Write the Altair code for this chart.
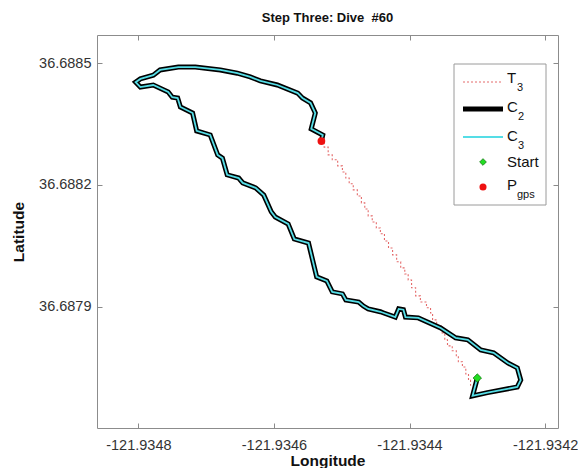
import altair as alt
import pandas as pd

# ---- data ----
c_lon = [-121.934300, -121.934307, -121.934285, -121.934241, -121.934236, -121.934241,
         -121.934255, -121.934276, -121.934295, -121.934314, -121.934332, -121.934354,
         -121.934387, -121.934406, -121.934409, -121.934416, -121.934421, -121.934438,
         -121.934443, -121.934461, -121.934468, -121.934475, -121.934494, -121.934499,
         -121.934514, -121.934522, -121.934537, -121.934549, -121.934570, -121.934579,
         -121.934598, -121.934604, -121.934615, -121.934627, -121.934646, -121.934652,
         -121.934669, -121.934676, -121.934683, -121.934694, -121.934714, -121.934720,
         -121.934738, -121.934742, -121.934750, -121.934756, -121.934778, -121.934797,
         -121.934804, -121.934797, -121.934778, -121.934768, -121.934741, -121.934716,
         -121.934679, -121.934654, -121.934635, -121.934620, -121.934595, -121.934565,
         -121.934558, -121.934546, -121.934539, -121.934545, -121.934528, -121.934530]
c_lat = [36.687725, 36.687681, 36.687689, 36.687703, 36.687720, 36.687750,
         36.687762, 36.687787, 36.687794, 36.687819, 36.687824, 36.687848,
         36.687873, 36.687875, 36.687893, 36.687895, 36.687875, 36.687885,
         36.687888, 36.687895, 36.687902, 36.687912, 36.687917, 36.687932,
         36.687937, 36.687964, 36.687974, 36.688057, 36.688067, 36.688104,
         36.688121, 36.688134, 36.688175, 36.688193, 36.688205, 36.688217,
         36.688225, 36.688266, 36.688274, 36.688323, 36.688333, 36.688377,
         36.688392, 36.688414, 36.688416, 36.688429, 36.688446, 36.688441,
         36.688453, 36.688461, 36.688470, 36.688483, 36.688490, 36.688490,
         36.688483, 36.688475, 36.688466, 36.688456, 36.688446, 36.688426,
         36.688414, 36.688402, 36.688377, 36.688338, 36.688323, 36.688308]

t_lon = [-121.934530, -121.934526, -121.934520, -121.934514, -121.934506, -121.934499,
         -121.934494, -121.934489, -121.934483, -121.934477, -121.934471, -121.934466,
         -121.934461, -121.934455, -121.934449, -121.934443, -121.934437, -121.934431,
         -121.934425, -121.934419, -121.934413, -121.934407, -121.934402, -121.934397,
         -121.934391, -121.934384, -121.934375, -121.934369, -121.934366, -121.934360,
         -121.934353, -121.934348, -121.934344, -121.934337, -121.934331, -121.934328,
         -121.934322, -121.934317, -121.934313, -121.934310]
t_lat = [36.688308, 36.688293, 36.688274, 36.688262, 36.688247, 36.688232,
         36.688217, 36.688203, 36.688188, 36.688173, 36.688156, 36.688141,
         36.688124, 36.688109, 36.688094, 36.688080, 36.688062, 36.688045,
         36.688028, 36.688011, 36.687996, 36.687981, 36.687966, 36.687947,
         36.687927, 36.687912, 36.687898, 36.687885, 36.687868, 36.687853,
         36.687836, 36.687819, 36.687804, 36.687792, 36.687780, 36.687765,
         36.687752, 36.687735, 36.687720, 36.687706]

start_lon = [-121.934300]
start_lat = [36.687725]
gps_lon = [-121.934530]
gps_lat = [36.688308]

x_ticks = [-121.9348, -121.9346, -121.9344, -121.9342]
y_ticks = [36.6879, 36.6882, 36.6885]
x_domain = [-121.934861, -121.934181]
y_domain = [36.687602, 36.688569]

title_text = "Step Three: Dive \u00a0#60"

# ---- styling ----
FONT = "Liberation Sans"
W, H = 461, 393
TICK_COL = "#8a8a8a"
RED_DASH = "#e46a6a"
CYAN = "#55dde6"

df_c = pd.DataFrame({"lon": c_lon, "lat": c_lat, "i": range(len(c_lon))})
df_t = pd.DataFrame({"lon": t_lon, "lat": t_lat, "i": range(len(t_lon))})
df_s = pd.DataFrame({"lon": start_lon, "lat": start_lat})
df_g = pd.DataFrame({"lon": gps_lon, "lat": gps_lat})

xs = alt.Scale(domain=x_domain, nice=False, zero=False)
ys = alt.Scale(domain=y_domain, nice=False, zero=False)

lbl_x = "'-' + format(abs(datum.value), '.4f')"

ax_bottom = alt.Axis(values=x_ticks, labelExpr=lbl_x, title="Longitude", orient="bottom",
                     offset=-5, tickSize=5, domain=False, grid=False, tickColor=TICK_COL,
                     labelPadding=10, labelFontSize=14.5, labelColor="#333333", labelFont=FONT,
                     titleFont=FONT, titleFontSize=15.5, titleFontWeight="bold", titleColor="#111111",
                     titlePadding=2, labelFlush=False)
ax_left = alt.Axis(values=y_ticks, format=".4f", title="Latitude", orient="left",
                   offset=-5, tickSize=5, domain=False, grid=False, tickColor=TICK_COL,
                   labelPadding=6, labelFontSize=14.5, labelColor="#333333", labelFont=FONT,
                   titleFont=FONT, titleFontSize=15.5, titleFontWeight="bold", titleColor="#111111",
                   titlePadding=12, labelFlush=False)
ax_top = alt.Axis(values=x_ticks, orient="top", offset=-5, tickSize=5, domain=False, grid=False,
                  labels=False, title=None, tickColor=TICK_COL)
ax_right = alt.Axis(values=y_ticks, orient="right", offset=-5, tickSize=5, domain=False, grid=False,
                    labels=False, title=None, tickColor=TICK_COL)

t3 = alt.Chart(df_t).mark_line(color=RED_DASH, strokeWidth=1.1, strokeDash=[2, 2],
                               interpolate="step-after").encode(
    x=alt.X("lon:Q", scale=xs, axis=ax_bottom),
    y=alt.Y("lat:Q", scale=ys, axis=ax_left),
    order="i:Q")

c2 = alt.Chart(df_c).mark_line(color="black", strokeWidth=5, strokeJoin="miter").encode(
    x=alt.X("lon:Q", scale=xs, axis=None),
    y=alt.Y("lat:Q", scale=ys, axis=None),
    order="i:Q")

c3 = alt.Chart(df_c).mark_line(color=CYAN, strokeWidth=1.8, strokeJoin="miter").encode(
    x=alt.X("lon:Q", scale=xs, axis=None),
    y=alt.Y("lat:Q", scale=ys, axis=None),
    order="i:Q")

start = alt.Chart(df_s).mark_point(shape="diamond", filled=True, size=70, fill="#22dd22",
                                   stroke="#117711", strokeWidth=0.8, opacity=1).encode(
    x=alt.X("lon:Q", scale=xs, axis=None),
    y=alt.Y("lat:Q", scale=ys, axis=None))

gps = alt.Chart(df_g).mark_circle(size=60, color="#ee1111", opacity=1).encode(
    x=alt.X("lon:Q", scale=xs, axis=None),
    y=alt.Y("lat:Q", scale=ys, axis=None))

axes_tr = alt.Chart(df_s).mark_point(opacity=0).encode(
    x=alt.X("lon:Q", scale=xs, axis=ax_top),
    y=alt.Y("lat:Q", scale=ys, axis=ax_right))

# ---- manual legend and title ----
one = pd.DataFrame({"k": [0]})


def txt(s, x, y, size=15, weight="normal", align="left"):
    return alt.Chart(one).mark_text(text=s, font=FONT, fontSize=size, align=align,
                                    fontWeight=weight, baseline="middle",
                                    color="#111111").encode(x=alt.value(x), y=alt.value(y))


def rule(x1, x2, y, color, width, dash=None):
    kw = dict(color=color, strokeWidth=width)
    if dash:
        kw["strokeDash"] = dash
    return alt.Chart(one).mark_rule(**kw).encode(x=alt.value(x1), x2=alt.value(x2), y=alt.value(y))


title = txt(title_text, W / 2, -17, 13, "bold", "center")

leg_box = alt.Chart(one).mark_rect(fill="white", stroke="#9a9a9a", strokeWidth=1).encode(
    x=alt.value(357), x2=alt.value(449), y=alt.value(29), y2=alt.value(170))

leg = [
    leg_box,
    rule(366, 406, 47, RED_DASH, 1, [2, 2]), txt("T", 410, 43), txt("3", 420, 53, 11),
    rule(366, 406, 74, "black", 5), txt("C", 410, 72), txt("2", 421, 82, 11),
    rule(366, 406, 102, CYAN, 2), txt("C", 410, 101), txt("3", 421, 111, 11),
    alt.Chart(one).mark_point(shape="diamond", filled=True, size=45, fill="#22dd22",
                              stroke="#117711", strokeWidth=0.8, opacity=1).encode(
        x=alt.value(386), y=alt.value(127)),
    txt("Start", 410, 127),
    alt.Chart(one).mark_circle(size=50, color="#ee1111", opacity=1).encode(
        x=alt.value(386), y=alt.value(152)),
    txt("P", 410, 150), txt("gps", 420, 160, 11),
]

chart = alt.layer(t3, c2, c3, start, gps, axes_tr, title, *leg).resolve_axis(
    x="independent", y="independent"
).properties(
    width=W, height=H,
    autosize=alt.AutoSizeParams(type="none"),
    padding={"left": 89, "top": 27, "right": 20, "bottom": 40},
).configure_view(stroke="#8c8c8c", strokeWidth=1)

chart.save("out.html", embed_options={"renderer": "svg", "actions": False})
